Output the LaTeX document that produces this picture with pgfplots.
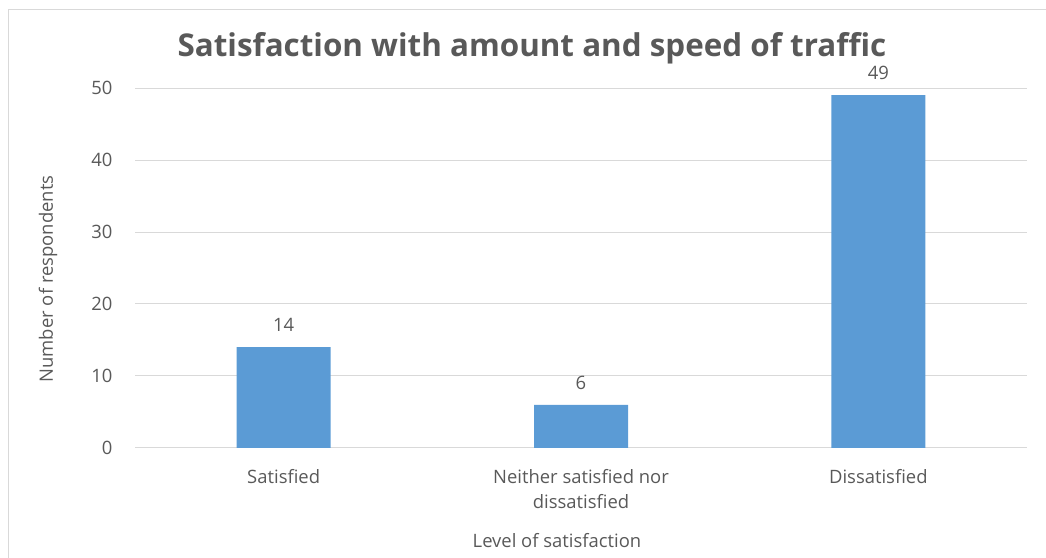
\documentclass[border=0pt]{standalone}
\usepackage{pgfplots}
\pgfplotsset{compat=1.18}
\usepackage{fontspec}
\setmainfont{Open Sans}
\definecolor{txt}{HTML}{595959}
\definecolor{grid}{HTML}{D9D9D9}
\definecolor{barblue}{HTML}{5B9BD5}
\definecolor{frame}{HTML}{D9D9D9}
\newcommand\lblfont{\fontsize{18.5}{25}\selectfont}
\begin{document}
\begin{tikzpicture}
\useasboundingbox (0bp,0bp) rectangle (1046bp,558bp);
% chart area border
\draw[frame, line width=1bp] (8.5bp,0bp) -- (8.5bp,548.5bp) -- (1046bp,548.5bp);
\begin{axis}[
  at={(135bp,110bp)}, anchor=south west,
  scale only axis, width=892bp, height=360bp,
  xmin=-0.5, xmax=2.5, ymin=0, ymax=50,
  ytick={0,10,...,50},
  xtick={0,1,2},
  xticklabels={Satisfied, {Neither satisfied nor\\dissatisfied}, Dissatisfied},
  x tick label style={align=center, font=\lblfont, text=txt, anchor=north, yshift=-17.5bp},
  y tick label style={font=\lblfont, text=txt, anchor=east, xshift=-19bp},
  /pgf/number format/assume math mode=true,
  major tick length=0pt,
  axis line style={draw=none},
  ymajorgrids, xmajorgrids=false, grid style={draw=grid, line width=1bp},
  ybar, bar width=94bp,
  nodes near coords,
  nodes near coords style={font=\lblfont, text=txt, anchor=center, yshift=22bp},
  clip=false,
]
\addplot[fill=barblue, draw=none] coordinates {(0,14) (1,6) (2,49)};
\end{axis}
\node[font=\bfseries\fontsize{31.5}{36}\selectfont, text=txt] at (532bp,510bp) {Satisfaction with amount and speed of traffic};
\node[font=\lblfont, text=txt] at (557bp,17bp) {Level of satisfaction};
\node[font=\lblfont, text=txt, rotate=90] at (48bp,279bp) {Number of respondents};
\end{tikzpicture}
\end{document}
